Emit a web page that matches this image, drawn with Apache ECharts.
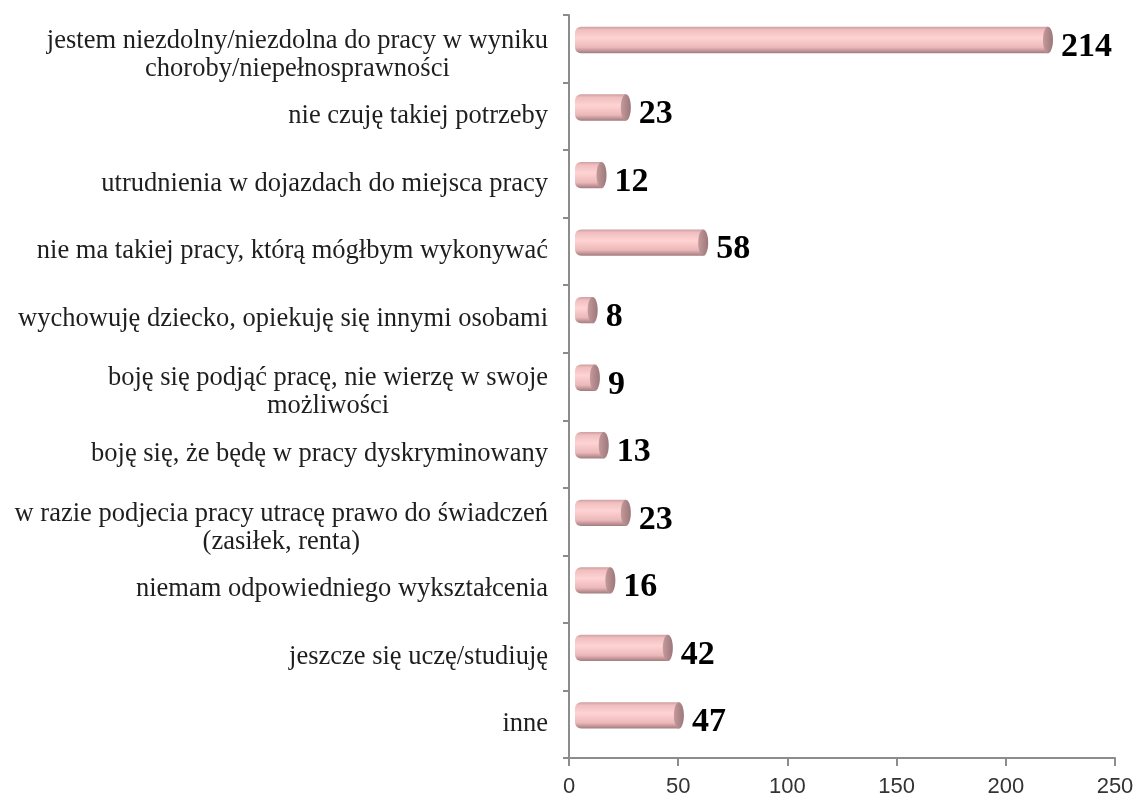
<!DOCTYPE html>
<html>
<head>
<meta charset="utf-8">
<script src="https://cdn.jsdelivr.net/npm/echarts@6/dist/echarts.min.js"></script>
<style>
  html, body { margin: 0; padding: 0; background: #fff; }
  #chart { width: 1139px; height: 801px; }
</style>
</head>
<body>
<div id="chart"></div>
<script>
// categories top to bottom
var categories = [
    'jestem niezdolny/niezdolna do pracy w wyniku\nchoroby/niepełnosprawności',
    'nie czuję takiej potrzeby',
    'utrudnienia w dojazdach do miejsca pracy',
    'nie ma takiej pracy, którą mógłbym wykonywać',
    'wychowuję dziecko, opiekuję się innymi osobami',
    'boję się podjąć pracę, nie wierzę w swoje\nmożliwości',
    'boję się, że będę w pracy dyskryminowany',
    'w razie podjecia pracy utracę prawo do świadczeń\n(zasiłek, renta)',
    'niemam odpowiedniego wykształcenia',
    'jeszcze się uczę/studiuję',
    'inne'
];
var values = [214, 23, 12, 58, 8, 9, 13, 23, 16, 42, 47];

var xTicks = { min: 0, max: 250, interval: 50 };

var serif = "'Liberation Serif', 'Times New Roman', serif";

var myChart = echarts.init(document.getElementById('chart'));

var bodyColor = new echarts.graphic.LinearGradient(0, 0, 0, 1, [
    { offset: 0, color: '#cf9ea0' },
    { offset: 0.12, color: '#f0bfc0' },
    { offset: 0.42, color: '#ffd3d3' },
    { offset: 0.78, color: '#ecb8b9' },
    { offset: 1, color: '#a27b7e' }
]);
var capColor = new echarts.graphic.LinearGradient(0, 0, 1, 0, [
    { offset: 0, color: '#c49a9c' },
    { offset: 1, color: '#9c777a' }
]);

// cylinder bars
function renderCylinder(params, api) {
    var idx = api.value(1);
    var v = api.value(0);
    var base = api.coord([0, idx]);
    var end = api.coord([v, idx]);
    var slot = api.size([0, 1])[1];
    var h = slot * 0.39;
    var cy = base[1] - slot * 0.13;
    var x0 = base[0] + 6;
    var x1 = x0 + (end[0] - base[0]) * 1.012;
    var rx = h * 0.19;
    return {
        type: 'group',
        children: [
            {
                type: 'rect',
                shape: { x: x0, y: cy - h / 2, width: x1 - x0, height: h, r: [6, 0, 0, 6] },
                style: { fill: bodyColor }
            },
            {
                type: 'ellipse',
                shape: { cx: x1, cy: cy, rx: rx, ry: h / 2 },
                style: { fill: capColor }
            },
            {
                type: 'text',
                x: x1 + rx + 8,
                y: cy + 7,
                style: {
                    text: String(v),
                    font: 'bold 34px ' + serif,
                    fill: '#000',
                    verticalAlign: 'middle',
                    align: 'left'
                }
            }
        ]
    };
}

var option = {
    animation: false,
    grid: { left: 569, right: 24, top: 15, bottom: 43 },
    xAxis: {
        type: 'value',
        min: xTicks.min,
        max: xTicks.max,
        interval: xTicks.interval,
        splitLine: { show: false },
        axisLine: { show: true, lineStyle: { color: '#8c8c8c', width: 2 } },
        axisTick: { show: true, length: 8, lineStyle: { color: '#8c8c8c', width: 2 } },
        axisLabel: {
            margin: 18,
            color: '#333',
            fontSize: 22,
            fontFamily: "'Liberation Sans', Arial, sans-serif"
        }
    },
    yAxis: {
        type: 'category',
        data: categories,
        inverse: true,
        axisLine: { show: true, lineStyle: { color: '#8c8c8c', width: 2 } },
        axisTick: { show: true, length: 6, lineStyle: { color: '#8c8c8c', width: 2 } },
        axisLabel: {
            interval: 0,
            margin: 21,
            formatter: function (txt) {
                var lines = txt.split('\n');
                var out = lines.map(function (s) { return '{c|' + s + '}'; }).join('\n');
                // two-line labels sit a little lower in the original
                return lines.length > 1 ? '{s| }\n' + out : out;
            },
            rich: {
                s: { fontSize: 4, lineHeight: 12 },
                c: {
                    align: 'center',
                    fontSize: 26.5,
                    lineHeight: 28,
                    fontFamily: serif,
                    color: '#1e1e1e'
                }
            }
        }
    },
    series: [{
        type: 'custom',
        renderItem: renderCylinder,
        encode: { x: 0, y: 1 },
        data: values.map(function (v, i) { return [v, i]; })
    }]
};

myChart.setOption(option);
</script>
</body>
</html>
